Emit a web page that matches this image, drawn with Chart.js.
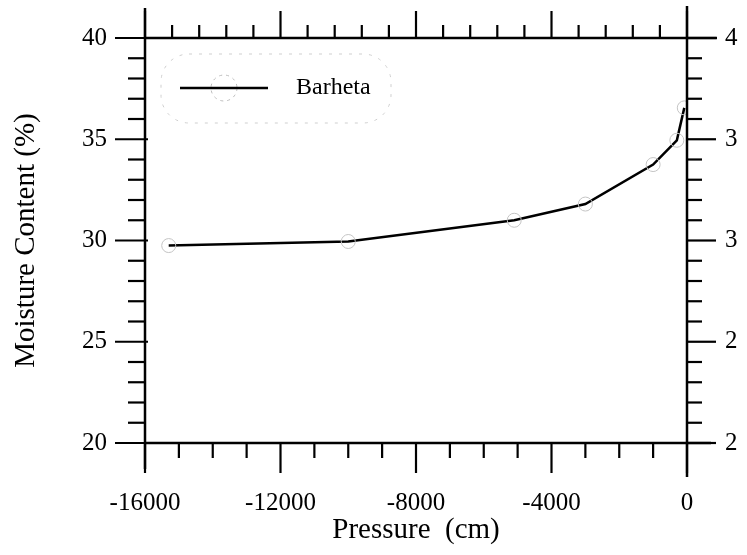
<!DOCTYPE html>
<html><head><meta charset="utf-8">
<script src="https://cdn.jsdelivr.net/npm/chart.js@4"></script>
<style>html,body{margin:0;padding:0;background:#fff}canvas{display:block}</style>
</head><body>
<canvas id="c" width="747" height="555"></canvas>
<script>
// ---- data ----
const seriesName = 'Barheta';
const pressure = [-15300, -10000, -5100, -3000, -1000, -300, -80];
const moisture = [29.75, 29.95, 31.0, 31.8, 33.75, 34.95, 36.55];
// ---- axes ----
const xRange = [-16000, 0];
const xMajorStep = 4000, xMinorStep = 1000, xTopMinorStep = 800;
const yRange = [20, 40];
const yMajorStep = 5, yMinorStep = 1;
const y2Range = [2, 4];
const y2MajorStep = 0.5, y2MinorStep = 0.1;
const xTitle = 'Pressure  (cm)';
const yTitle = 'Moisture Content (%)';

const FONT = "'Liberation Serif', 'Times New Roman', Times, serif";
const isMult = (v, s) => Math.abs(v / s - Math.round(v / s)) < 1e-6;

function strokeLine(ctx, x1, y1, x2, y2) {
  ctx.beginPath(); ctx.moveTo(x1, y1); ctx.lineTo(x2, y2); ctx.stroke();
}

const axesPlugin = {
  id: 'axesDraw',
  afterDraw(chart) {
    const ctx = chart.ctx, a = chart.chartArea;
    const sx = chart.scales.x, sx2 = chart.scales.x2, sy = chart.scales.y, sy2 = chart.scales.y2;
    ctx.save();
    ctx.strokeStyle = '#000';
    ctx.lineWidth = 2.5;
    // axis lines (extending past the corners like the original)
    strokeLine(ctx, a.left, a.top - 30, a.left, a.bottom + 26);
    strokeLine(ctx, a.right, a.top - 32, a.right, a.bottom + 34);
    strokeLine(ctx, a.left, a.top, a.right + 30, a.top);
    strokeLine(ctx, a.left, a.bottom, a.right + 24, a.bottom);
    ctx.lineWidth = 2.2;
    sx.ticks.forEach(t => {
      const p = sx.getPixelForValue(t.value);
      strokeLine(ctx, p, a.bottom, p, a.bottom + (isMult(t.value, xMajorStep) ? 30 : 15));
    });
    sx2.ticks.forEach(t => {
      const p = sx2.getPixelForValue(t.value);
      strokeLine(ctx, p, a.top, p, a.top - (isMult(t.value, xMajorStep) ? 27 : 13));
    });
    sy.ticks.forEach(t => {
      const p = sy.getPixelForValue(t.value);
      const maj = isMult(t.value, yMajorStep);
      strokeLine(ctx, a.left + (maj ? 3 : 0), p, a.left - (maj ? 30 : 17), p);
    });
    sy2.ticks.forEach(t => {
      const p = sy2.getPixelForValue(t.value);
      strokeLine(ctx, a.right, p, a.right + (isMult(t.value, y2MajorStep) ? 29 : 15), p);
    });
    ctx.restore();
  }
};

function roundRectPath(ctx, x, y, w, h, r) {
  ctx.beginPath();
  ctx.moveTo(x + r, y);
  ctx.lineTo(x + w - r, y);
  ctx.arcTo(x + w, y, x + w, y + r, r);
  ctx.lineTo(x + w, y + h - r);
  ctx.arcTo(x + w, y + h, x + w - r, y + h, r);
  ctx.lineTo(x + r, y + h);
  ctx.arcTo(x, y + h, x, y + h - r, r);
  ctx.lineTo(x, y + r);
  ctx.arcTo(x, y, x + r, y, r);
  ctx.closePath();
}

const legendPlugin = {
  id: 'boxLegend',
  afterDraw(chart) {
    const ctx = chart.ctx, a = chart.chartArea;
    const ds = chart.data.datasets[0];
    ctx.save();
    ctx.strokeStyle = '#cfcfcf';
    ctx.lineWidth = 1;
    ctx.setLineDash([3, 7]);
    roundRectPath(ctx, a.left + 16, a.top + 16, 230, 69, 28);
    ctx.stroke();
    const ly = a.top + 50;
    ctx.beginPath();
    ctx.arc(a.left + 79, ly, 13, 0, Math.PI * 2);
    ctx.strokeStyle = '#bdbdbd';
    ctx.setLineDash([3, 4]);
    ctx.stroke();
    ctx.setLineDash([]);
    ctx.strokeStyle = '#000';
    ctx.lineWidth = 2.5;
    strokeLine(ctx, a.left + 35, ly, a.left + 123, ly);
    ctx.fillStyle = '#000';
    ctx.font = '24px ' + FONT;
    ctx.textBaseline = 'middle';
    ctx.textAlign = 'left';
    ctx.fillText(ds.label, a.left + 151, ly);
    ctx.restore();
  }
};

const tickFont = { family: FONT, size: 25 };
const titleFont = { family: FONT, size: 29 };
const fitV = w => s => { s.width = w; s.paddingTop = 0; s.paddingBottom = 0; };

new Chart(document.getElementById('c'), {
  type: 'scatter',
  data: {
    datasets: [{
      label: seriesName,
      data: pressure.map((x, i) => ({ x: x, y: moisture[i] })),
      showLine: true,
      borderColor: '#000',
      borderWidth: 2.5,
      tension: 0,
      pointRadius: 7,
      pointBorderWidth: 1,
      pointBorderColor: '#c4c4c4',
      pointBackgroundColor: 'rgba(0,0,0,0)',
      xAxisID: 'x',
      yAxisID: 'y'
    }]
  },
  options: {
    responsive: false,
    animation: false,
    layout: { padding: 0, autoPadding: false },
    plugins: { legend: { display: false }, tooltip: { enabled: false } },
    scales: {
      x: {
        type: 'linear', position: 'bottom',
        min: xRange[0], max: xRange[1],
        grid: { display: false, drawTicks: false },
        border: { display: false },
        ticks: {
          stepSize: xMinorStep, autoSkip: false, maxRotation: 0, minRotation: 0,
          padding: 45, color: '#000', font: tickFont,
          callback: v => isMult(v, xMajorStep) ? String(Math.round(v)) : ''
        },
        title: { display: true, text: xTitle, color: '#000', font: titleFont, padding: { top: 0, bottom: 7 } },
        afterFit: s => { s.height = 112; }
      },
      x2: {
        type: 'linear', position: 'top',
        min: xRange[0], max: xRange[1],
        grid: { display: false, drawTicks: false },
        border: { display: false },
        ticks: { display: false, stepSize: xTopMinorStep, autoSkip: false },
        afterFit: s => { s.height = 38; }
      },
      y: {
        type: 'linear', position: 'left',
        min: yRange[0], max: yRange[1],
        grid: { display: false, drawTicks: false },
        border: { display: false },
        ticks: {
          stepSize: yMinorStep, autoSkip: false, padding: 38, color: '#000', font: tickFont,
          callback: v => isMult(v, yMajorStep) ? String(Math.round(v)) : ''
        },
        title: { display: true, text: yTitle, color: '#000', font: titleFont, padding: { top: 9, bottom: 0 } },
        afterFit: fitV(145)
      },
      y2: {
        type: 'linear', position: 'right',
        min: y2Range[0], max: y2Range[1],
        grid: { display: false, drawTicks: false },
        border: { display: false },
        ticks: {
          stepSize: y2MinorStep, autoSkip: false, padding: 38, color: '#000', font: tickFont,
          callback: v => isMult(v, y2MajorStep) ? String(Math.floor(v + 1e-9)) : ''
        },
        afterFit: fitV(60)
      }
    }
  },
  plugins: [axesPlugin, legendPlugin]
});
</script>
</body></html>
